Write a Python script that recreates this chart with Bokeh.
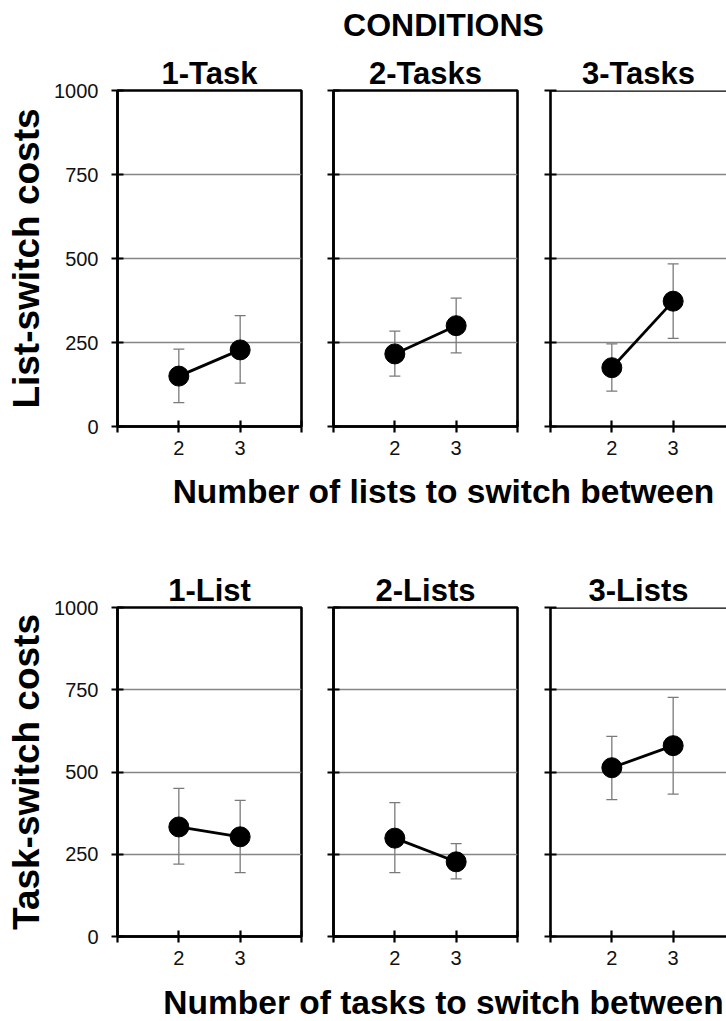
from bokeh.plotting import figure
from bokeh.layouts import column, row
from bokeh.models import Range1d, FixedTicker, Whisker, TeeHead, ColumnDataSource, Span
from bokeh.embed import file_html
from bokeh.resources import INLINE

FONT = "Liberation Sans"

# ---------------- data ----------------
n_switch = [2, 3]
y_ticks = [0, 250, 500, 750, 1000]
grid_vals = [250, 500, 750]
x_major = [2, 3]
x_minor = [1, 4]

header_text = "CONDITIONS"

top_titles = ["1-Task", "2-Tasks", "3-Tasks"]
top_ylabel = "List-switch costs"
top_xlabel = "Number of lists to switch between"
top_means = [[150, 228], [216, 300], [175, 373]]
top_lower = [[71, 129], [150, 219], [105, 262]]
top_upper = [[230, 330], [284, 382], [246, 484]]

bot_titles = ["1-List", "2-Lists", "3-Lists"]
bot_ylabel = "Task-switch costs"
bot_xlabel = "Number of tasks to switch between"
bot_means = [[333, 303], [299, 227], [513, 580]]
bot_lower = [[220, 194], [194, 175], [416, 433]]
bot_upper = [[450, 414], [407, 282], [608, 727]]

# ---------------- layout constants ----------------
FRAME_W = 184
WIDTHS = [317, 216, 193]
BORDER_L = [117, 16, 17]
BORDER_R = [16, 16, 0]
TITLE_OFFSET = [0, 0, 7]


def text_fig(text, width, height, left, top, size):
    p = figure(width=width, height=height, toolbar_location=None,
               output_backend="svg", min_border_left=left, min_border_right=0,
               min_border_top=top, min_border_bottom=0,
               x_range=Range1d(0, 1), y_range=Range1d(0, 1))
    p.title.text = text
    p.title.align = "center"
    p.title.text_font = FONT
    p.title.text_font_size = size
    p.title.text_font_style = "bold"
    p.title.text_color = "black"
    p.title.standoff = 0
    p.axis.visible = False
    p.grid.visible = False
    p.outline_line_color = None
    return p


def panel(i, title, means, lower, upper, ylabel, height, top, bottom):
    frame_w = WIDTHS[i] - BORDER_L[i] - BORDER_R[i]
    x_end = 1 + 3.0 * frame_w / FRAME_W
    p = figure(width=WIDTHS[i], height=height, toolbar_location=None,
               output_backend="svg",
               x_range=Range1d(1, x_end), y_range=Range1d(0, 1000),
               min_border_left=BORDER_L[i], min_border_right=BORDER_R[i],
               min_border_top=top, min_border_bottom=bottom)
    p.title.text = title
    p.title.align = "center"
    p.title.offset = TITLE_OFFSET[i]
    p.title.text_font = FONT
    p.title.text_font_size = "31px"
    p.title.text_font_style = "bold"
    p.title.text_color = "black"
    p.title.standoff = 0

    # grid
    p.xgrid.visible = False
    p.ygrid.ticker = FixedTicker(ticks=grid_vals)
    p.ygrid.grid_line_color = "#858585"
    p.ygrid.grid_line_width = 1.3

    # outline
    if i < 2:
        p.outline_line_color = "black"
        p.outline_line_width = 2.6
        p.outline_line_alpha = 1
    else:
        p.outline_line_color = None
        p.add_layout(Span(location=p.y_range.end, dimension="width",
                          line_color="black", line_width=2.6))

    # axes
    for ax in (p.xaxis[0], p.yaxis[0]):
        ax.axis_line_color = "black"
        ax.axis_line_width = 2.6
        ax.major_tick_line_color = "black"
        ax.major_tick_line_width = 2.2
        ax.minor_tick_line_color = "black"
        ax.minor_tick_line_width = 2.2
        ax.major_tick_in = 6
        ax.major_tick_out = 6
        ax.minor_tick_in = 6
        ax.minor_tick_out = 6
        ax.major_label_text_font = FONT
        ax.major_label_text_font_size = "20px"
        ax.major_label_text_color = "#111111"

    p.xaxis.ticker = FixedTicker(ticks=x_major, minor_ticks=x_minor)
    p.xaxis.major_label_standoff = 8
    if i == 0:
        p.yaxis.ticker = FixedTicker(ticks=y_ticks)
        p.yaxis.major_label_standoff = 13
        p.yaxis.axis_label = ylabel
        p.yaxis.axis_label_text_font = FONT
        p.yaxis.axis_label_text_font_size = "37px"
        p.yaxis.axis_label_text_font_style = "bold"
        p.yaxis.axis_label_text_color = "black"
        p.yaxis.axis_label_standoff = 4
    else:
        p.yaxis.ticker = FixedTicker(ticks=[], minor_ticks=y_ticks)

    src = ColumnDataSource(dict(x=n_switch, y=means, lower=lower, upper=upper))
    w = Whisker(source=src, base="x", lower="lower", upper="upper",
                line_color="#7a7a7a", line_width=1.3, level="underlay",
                upper_head=TeeHead(size=11, line_color="#7a7a7a", line_width=1.3),
                lower_head=TeeHead(size=11, line_color="#7a7a7a", line_width=1.3))
    p.add_layout(w)
    p.line("x", "y", source=src, line_color="black", line_width=2.8)
    p.scatter("x", "y", source=src, size=20, fill_color="black", line_color="black")
    return p


header = text_fig(header_text, 726, 50, 150, 42, "32px")

row1 = row(*[panel(i, top_titles[i], top_means[i], top_lower[i], top_upper[i],
                   top_ylabel, 412, 40, 36) for i in range(3)])
xlab1 = text_fig(top_xlabel, 726, 105, 160, 47, "33.5px")

row2 = row(*[panel(i, bot_titles[i], bot_means[i], bot_lower[i], bot_upper[i],
                   bot_ylabel, 400, 40, 28) for i in range(3)])
xlab2 = text_fig(bot_xlabel, 726, 54, 140, 53, "33.5px")

layout = column(header, row1, xlab1, row2, xlab2)

open("out.html", "w").write(file_html(layout, INLINE))
